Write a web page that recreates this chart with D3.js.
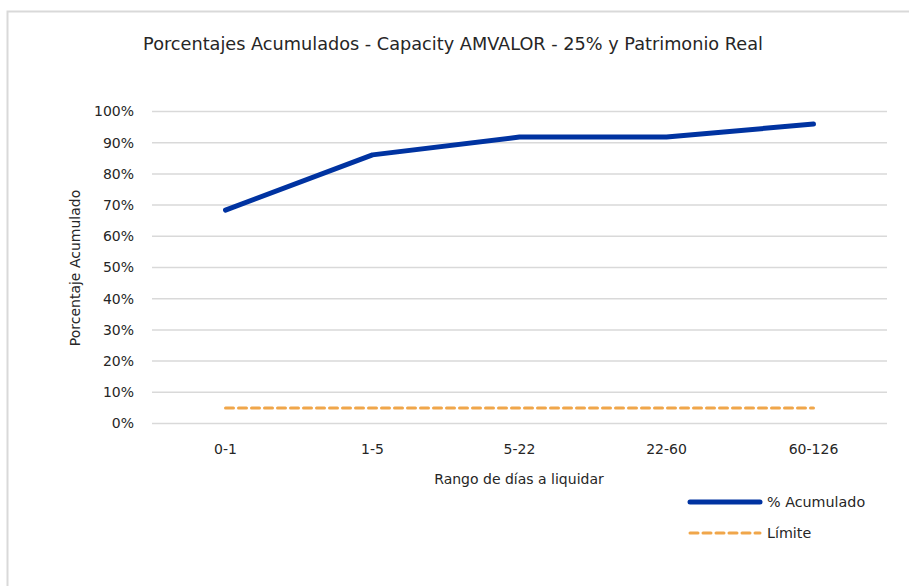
<!DOCTYPE html>
<html>
<head>
<meta charset="utf-8">
<script src="https://cdn.jsdelivr.net/npm/d3@7"></script>
<style>
  body { margin: 0; background: #fff; }
  text { font-family: "DejaVu Sans", "Noto Sans", sans-serif; fill: #262626; }
</style>
</head>
<body>
<div id="chart"></div>
<script>
// data
const categories = ['0-1', '1-5', '5-22', '22-60', '60-126']
const acumulado = [0.684, 0.861, 0.918, 0.918, 0.960]
const limite = [0.05, 0.05, 0.05, 0.05, 0.05]
const yTicks = [0, 0.1, 0.2, 0.3, 0.4, 0.5, 0.6, 0.7, 0.8, 0.9, 1.0]

const width = 909, height = 586
const margin = { top: 111.5, left: 152, right: 22, bottom: 162.5 }

const svg = d3.select('#chart').append('svg')
    .attr('width', width)
    .attr('height', height)

// chart area frame (only top and left edges show)
svg.append('path')
    .attr('d', 'M7.5,' + height + 'V11.5H' + width)
    .attr('fill', 'none')
    .attr('stroke', '#d9d9d9')
    .attr('stroke-width', 2)

let x = d3.scaleBand()
    .domain(categories)
    .range([margin.left, width - margin.right])

let y = d3.scaleLinear()
    .domain([0, 1])
    .range([height - margin.bottom, margin.top])

// gridlines
svg.append('g')
    .selectAll('line')
    .data(yTicks)
    .enter().append('line')
    .attr('x1', margin.left)
    .attr('x2', width - margin.right)
    .attr('y1', function (d) { return y(d) })
    .attr('y2', function (d) { return y(d) })
    .attr('stroke', '#d9d9d9')
    .attr('stroke-width', 1.5)

let yAxis = svg.append('g')
    .attr('transform', 'translate(' + (margin.left - 18) + ',0)')
    .call(d3.axisLeft(y).tickValues(yTicks).tickSize(0).tickFormat(d3.format('.0%')))
yAxis.select('.domain').remove()
yAxis.selectAll('text')
    .attr('x', 0)
    .style('font-size', '14px')
    .attr('fill', '#262626')

let xAxis = svg.append('g')
    .attr('transform', 'translate(0,' + (height - margin.bottom) + ')')
    .call(d3.axisBottom(x).tickSize(0))
xAxis.select('.domain').remove()
xAxis.selectAll('text')
    .attr('y', 21)
    .style('font-size', '14px')
    .attr('fill', '#262626')

let cx = function (d, i) { return x(categories[i]) + x.bandwidth() / 2 }

let line = d3.line()
    .x(cx)
    .y(function (d) { return y(d) })

svg.append('path')
    .datum(limite)
    .attr('d', line)
    .attr('fill', 'none')
    .attr('stroke', '#f0a64a')
    .attr('stroke-width', 3)
    .attr('stroke-dasharray', '8,5')
    .attr('stroke-linecap', 'round')

svg.append('path')
    .datum(acumulado)
    .attr('d', line)
    .attr('fill', 'none')
    .attr('stroke', '#0033a1')
    .attr('stroke-width', 5)
    .attr('stroke-linecap', 'round')
    .attr('stroke-linejoin', 'round')

// titles
svg.append('text')
    .attr('x', 453)
    .attr('y', 50)
    .attr('text-anchor', 'middle')
    .style('font-size', '17.7px')
    .text('Porcentajes Acumulados - Capacity AMVALOR - 25% y Patrimonio Real')

svg.append('text')
    .attr('x', 519)
    .attr('y', 484)
    .attr('text-anchor', 'middle')
    .style('font-size', '14px')
    .text('Rango de días a liquidar')

svg.append('text')
    .attr('transform', 'translate(80,268)rotate(-90)')
    .attr('text-anchor', 'middle')
    .style('font-size', '14px')
    .text('Porcentaje Acumulado')

// legend
let legend = [
    { name: '% Acumulado', color: '#0033a1', width: 5, dash: null },
    { name: 'Límite', color: '#f0a64a', width: 3, dash: '8,5' }
]

let lg = svg.append('g')
    .selectAll('g')
    .data(legend)
    .enter().append('g')
    .attr('transform', function (d, i) { return 'translate(690,' + (502 + i * 31) + ')' })

lg.append('line')
    .attr('x1', 0)
    .attr('x2', 70)
    .attr('stroke', function (d) { return d.color })
    .attr('stroke-width', function (d) { return d.width })
    .attr('stroke-dasharray', function (d) { return d.dash })
    .attr('stroke-linecap', 'round')

lg.append('text')
    .attr('x', 77)
    .attr('dy', '0.35em')
    .style('font-size', '14.3px')
    .text(function (d) { return d.name })
</script>
</body>
</html>
